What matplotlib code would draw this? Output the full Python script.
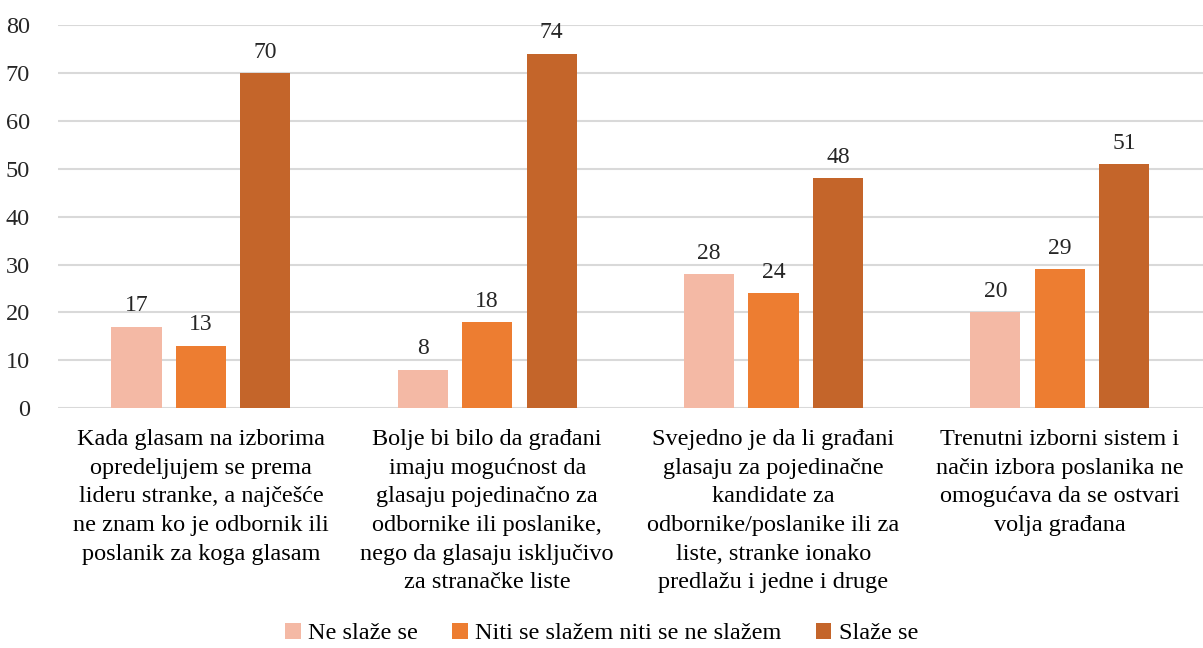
import matplotlib

matplotlib.use("Agg")
import matplotlib.pyplot as plt
import numpy as np

plt.rcParams["font.family"] = ["Liberation Serif", "DejaVu Serif"]

categories = [
    "Kada glasam na izborima\nopredeljujem se prema\nlideru stranke, a najčešće\nne znam ko je odbornik ili\nposlanik za koga glasam",
    "Bolje bi bilo da građani\nimaju mogućnost da\nglasaju pojedinačno za\nodbornike ili poslanike,\nnego da glasaju isključivo\nza stranačke liste",
    "Svejedno je da li građani\nglasaju za pojedinačne\nkandidate za\nodbornike/poslanike ili za\nliste, stranke ionako\npredlažu i jedne i druge",
    "Trenutni izborni sistem i\nnačin izbora poslanika ne\nomogućava da se ostvari\nvolja građana",
]
series_names = ["Ne slaže se", "Niti se slažem niti se ne slažem", "Slaže se"]
ne_slaze = [17, 8, 28, 20]
niti = [13, 18, 24, 29]
slaze = [70, 74, 48, 51]
colors = ["#F4B9A5", "#ED7D31", "#C4652A"]

fig = plt.figure(figsize=(12.03, 6.48), dpi=100)
ax = fig.add_axes([0.048, 0.370, 0.952, 0.591])

x = np.arange(len(categories))
width = 0.175
step = 0.225
for i, (vals, name, col) in enumerate(zip([ne_slaze, niti, slaze], series_names, colors)):
    pos = x + (i - 1) * step
    ax.bar(pos, vals, width, color=col, label=name, zorder=3)
    for p, v in zip(pos, vals):
        ax.text(p, v + 2.2, str(v), ha="center", va="bottom", fontsize=17, color="#262626")

ax.set_xlim(-0.5, len(categories) - 0.5)
ax.set_ylim(0, 80)
ax.set_yticks(range(0, 81, 10))
ax.tick_params(axis="y", length=0, labelsize=17.5, pad=20, colors="#262626")
ax.tick_params(axis="x", length=0)
ax.set_xticks(x)
ax.set_xticklabels([])
ax.grid(axis="y", color="#d9d9d9", linewidth=1.5, zorder=0)
for s in ax.spines.values():
    s.set_visible(False)

for xi, lab in zip(x, categories):
    ax.text(xi, -4.3, lab, ha="center", va="top", fontsize=17.5, linespacing=1.48,
            color="#000000", transform=ax.transData)

fig.legend(loc="lower center", bbox_to_anchor=(0.5, -0.028), ncol=3, frameon=False,
           fontsize=17.5, handlelength=0.65, handleheight=0.65, handletextpad=0.3,
           columnspacing=1.4)

fig.savefig("out.png", dpi=100)
